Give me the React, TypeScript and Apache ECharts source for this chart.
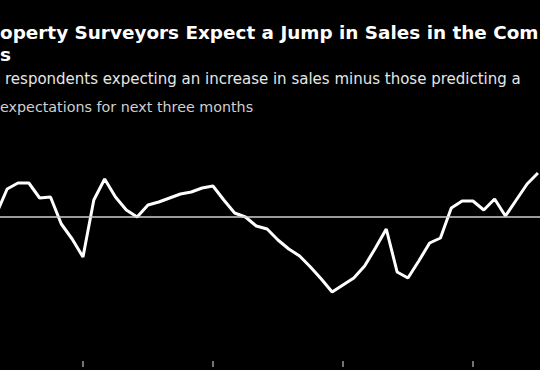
import React, { useEffect, useRef } from "react";
import * as echarts from "echarts";

const values: number[] = [
  1.5, 14, 17, 17, 9.5, 10, -3.5, -11, -20, 8.5, 19, 10, 3.5, 0, 6, 7.5, 9.5,
  11.5, 12.5, 14.5, 15.5, 8.5, 2, 0, -4.5, -6, -11.5, -16, -19.5, -25, -31,
  -37.5, -34, -30.5, -24.5, -15.5, -6, -27.5, -30.5, -22, -13, -10.5, 4.5, 8,
  8, 3.5, 9, 0.5, 8.5, 16.5, 22,
];
const tickIndices: number[] = [8, 20, 32, 44];
const titleLines: string[] = [
  "operty Surveyors Expect a Jump in Sales in the Com",
  "s",
];
const subtitleLines: string[] = [
  "respondents expecting an increase in sales minus those predicting a",
  "expectations for next three months",
];

export default function App() {
  const ref = useRef<HTMLDivElement>(null);
  useEffect(() => {
    if (!ref.current) return;
    const chart = echarts.init(ref.current, null, { renderer: "svg" });
    const font = "DejaVu Sans";
    chart.setOption({
      animation: false,
      backgroundColor: "#000000",
      graphic: [
        {
          type: "text",
          left: 0,
          top: 23,
          style: {
            text: titleLines[0],
            fill: "#ffffff",
            font: `bold 18.4px "${font}"`,
          },
        },
        {
          type: "text",
          left: 0,
          top: 45,
          style: {
            text: titleLines[1],
            fill: "#ffffff",
            font: `bold 18.4px "${font}"`,
          },
        },
        {
          type: "text",
          left: 5,
          top: 71,
          style: {
            text: subtitleLines[0],
            fill: "#e6e6e6",
            font: `15px "${font}"`,
          },
        },
        {
          type: "text",
          left: 0,
          top: 100,
          style: {
            text: subtitleLines[1],
            fill: "#d0d0d0",
            font: `14.3px "${font}"`,
          },
        },
      ],
      grid: { left: 0, right: 0, top: 137, bottom: 9 },
      xAxis: {
        type: "value",
        min: 0.34,
        max: 50.19,
        axisLine: { show: false, onZero: false },
        axisLabel: { show: false },
        splitLine: { show: false },
        axisTick: {
          show: true,
          customValues: tickIndices,
          length: 6,
          lineStyle: { color: "#9a9a9a", width: 1.5 },
        },
      },
      yAxis: {
        type: "value",
        min: -72,
        max: 40,
        show: false,
        splitLine: { show: false },
      },
      series: [
        {
          type: "line",
          data: values.map((v, i) => [i, v]),
          showSymbol: false,
          symbol: "none",
          lineStyle: { color: "#ffffff", width: 3 },
          clip: true,
          markLine: {
            silent: true,
            symbol: "none",
            label: { show: false },
            lineStyle: { color: "#cfcfcf", width: 1.5, type: "solid" },
            data: [{ yAxis: 0 }],
          },
          z: 3,
        },
      ],
    });
    return () => chart.dispose();
  }, []);
  return (
    <div
      ref={ref}
      style={{ position: "fixed", left: 0, top: 0, width: 540, height: 370 }}
    />
  );
}
